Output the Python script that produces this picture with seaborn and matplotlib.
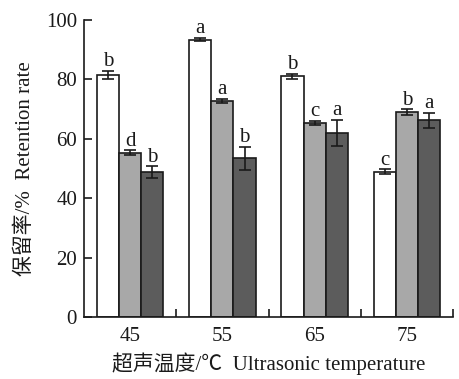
import numpy as np
import pandas as pd
import matplotlib
matplotlib.use("Agg")
import matplotlib.pyplot as plt
from matplotlib.ticker import FixedLocator
import seaborn as sns

# Retention rate (%) at each ultrasonic temperature for three treatments
temperatures = ["45", "55", "65", "75"]
series_names = ["S1", "S2", "S3"]
retention_s1 = [81.5, 93.4, 81.0, 48.9]
retention_s2 = [55.3, 72.7, 65.4, 69.0]
retention_s3 = [48.8, 53.4, 62.0, 66.2]
error_s1 = [1.3, 0.6, 0.8, 0.8]
error_s2 = [0.8, 0.6, 0.6, 0.9]
error_s3 = [1.9, 4.0, 4.4, 2.6]
letters_s1 = ["b", "a", "b", "c"]
letters_s2 = ["d", "a", "c", "b"]
letters_s3 = ["b", "b", "a", "a"]

sns.set_theme(style="ticks")
plt.rcParams["font.family"] = ["Liberation Serif", "Noto Sans CJK SC"]
plt.rcParams["axes.linewidth"] = 1.2

values = [retention_s1, retention_s2, retention_s3]
errors = [error_s1, error_s2, error_s3]
letters = [letters_s1, letters_s2, letters_s3]

df = pd.DataFrame({
    "temp": np.repeat([temperatures], 3, axis=0).ravel(),
    "series": np.repeat(series_names, len(temperatures)),
    "value": np.concatenate(values),
})

fig = plt.figure(figsize=(4.59, 3.79), dpi=100)
ax = fig.add_axes([84 / 459, 1 - 317 / 379, 369 / 459, 297 / 379])

palette = ["#ffffff", "#a8a8a8", "#5c5c5c"]
sns.barplot(data=df, x="temp", y="value", hue="series", order=temperatures,
            hue_order=series_names, palette=palette, width=0.72,
            edgecolor="#1a1a1a", linewidth=1.2, errorbar=None, legend=False, ax=ax)

# error bars and significance letters centred on each bar
bar_groups = list(ax.containers)
for s, cont in enumerate(bar_groups):
    for i, bar in enumerate(cont.patches):
        xc = bar.get_x() + bar.get_width() / 2
        v = values[s][i]
        e = errors[s][i]
        ax.errorbar(xc, v, yerr=e, color="#1a1a1a", elinewidth=1.2,
                    capsize=4, capthick=1.2, zorder=5)
        ax.annotate(letters[s][i], (xc, v + e), xytext=(0, 3.5),
                    textcoords="offset points", ha="center", va="baseline",
                    fontsize=15, color="#1a1a1a")

ax.set_xlim(-0.5, 3.5)
ax.set_ylim(0, 100)
ax.set_yticks([0, 20, 40, 60, 80, 100])
ax.xaxis.set_minor_locator(FixedLocator([0.5, 1.5, 2.5, 3.5]))
ax.tick_params(axis="x", which="major", length=0, labelsize=15, pad=7, colors="#1a1a1a")
ax.tick_params(axis="x", which="minor", direction="in", length=6, width=1.2, color="#1a1a1a")
ax.tick_params(axis="y", direction="in", length=6, width=1.2, labelsize=15, pad=5, colors="#1a1a1a")
for sp in ["top", "right"]:
    ax.spines[sp].set_visible(False)
for sp in ["left", "bottom"]:
    ax.spines[sp].set_color("#1a1a1a")

ax.set_xlabel("超声温度/℃  Ultrasonic temperature", fontsize=15, labelpad=5, color="#1a1a1a")
ax.set_ylabel("保留率/%  Retention rate", fontsize=15, labelpad=8, color="#1a1a1a")

fig.savefig("out.png", dpi=100)
